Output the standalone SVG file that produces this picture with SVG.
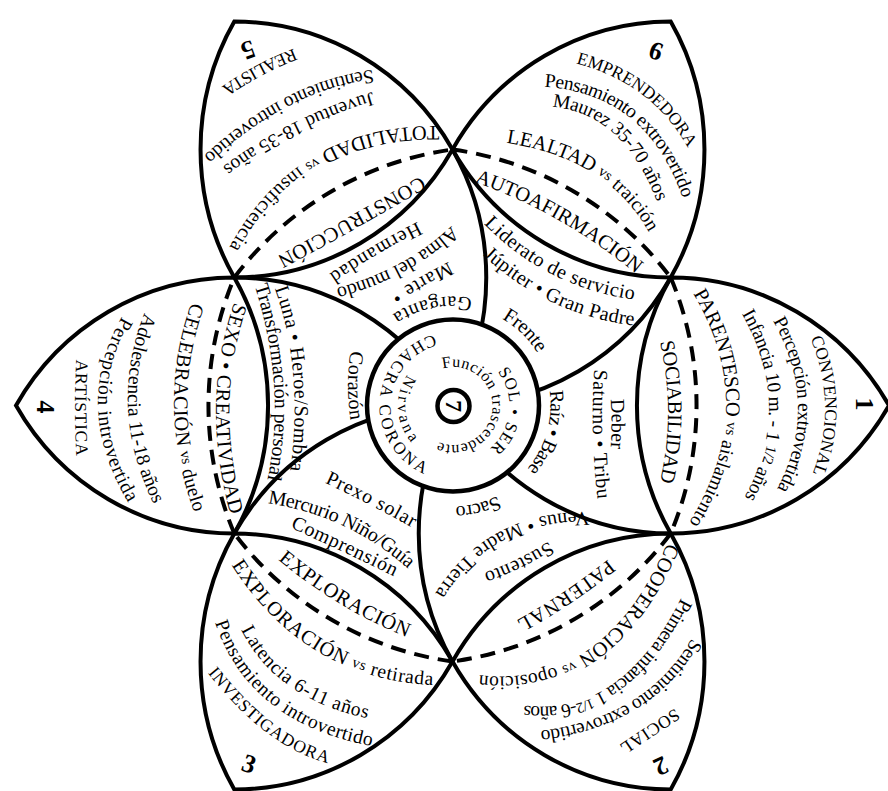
<svg xmlns="http://www.w3.org/2000/svg" width="888" height="791" viewBox="0 0 888 791">
<style>
.ln{fill:none;stroke:#000;stroke-width:4;stroke-linejoin:miter}
.dash{fill:none;stroke:#000;stroke-width:4;stroke-dasharray:15 9}
text{font-family:'Liberation Serif',serif;fill:#000;text-anchor:middle;dominant-baseline:central}
.b{font-size:20.5px}
.s{font-size:17.5px}
.l{font-size:19.5px}
.i{font-size:20px}
.v{font-size:15px}
.c{font-size:16px}
.n{font-size:26px;font-weight:bold}
</style>
<defs>
<path id="p1a" d="M810.5,321.5 L818,341 Q843,406 820,471 L813.1,490.5"/>
<path id="p1b" d="M767.2,295.8 L781,321 Q827,405 785,489 L772.4,514.2"/>
<path id="p1c" d="M734.7,285.8 L750,314 Q801,408 752,498 L737.3,525"/>
<path id="p1d" d="M681.2,258.5 L701,293 Q767,408 697,523 L676,557.5"/>
<path id="p1e" d="M663.8,326.2 L668,346 Q682,412 668,478 L663.8,497.8"/>
<path id="p4a" d="M82.6,352.5 L82,365 Q80,406.5 82,450 L82.6,463"/>
<path id="p4b" d="M141,297 L127,322 Q80.5,405.5 132,495 L147.5,521.9"/>
<path id="p4c" d="M160.2,291.5 L150,318 Q116,406.5 158,497 L170.6,524.2"/>
<path id="p4d" d="M206.9,279.3 L197,308 Q164,403.5 199,505 L209.5,535.5"/>
<path id="p4e" d="M249.6,278.4 L240,307 Q208,402.5 236,508 L244.4,539.7"/>
<path id="p5a" d="M300.9,52 L291,56 Q258,69.5 229,89 L220.3,94.9"/>
<path id="p5b" d="M397.4,73.4 L372,77 Q287.5,89 213,157 L190.7,177.4"/>
<path id="p5c" d="M392.8,93.1 L370,100 Q294,123 230,170 L210.8,184.1"/>
<path id="p5d" d="M475.5,132.9 L435,133 Q300,133.5 237,248 L218.1,282.4"/>
<path id="p5e" d="M438.9,173.3 L417,186 Q344,228.5 283,261 L264.7,270.8"/>
<path id="p6a" d="M561.4,52.7 L583,59 Q655,80 691,141 L701.8,159.3"/>
<path id="p6b" d="M516,77.6 L547,80 Q650.5,88 688,192 L699.3,223.2"/>
<path id="p6c" d="M532.3,97.8 L554,100 Q626.5,107.5 661,193 L671.4,218.7"/>
<path id="p6d" d="M484.6,131.9 L514,137 Q612,154 654,227 L666.6,248.9"/>
<path id="p6e" d="M456.7,168.5 L481,177 Q562,205.5 635,264 L656.9,281.6"/>
<path id="p2a" d="M680.8,711.7 L674,716 Q651.5,730.5 627,747 L619.7,752"/>
<path id="p2b" d="M710.5,619.3 L697,643 Q652,722 547,737 L515.5,741.5"/>
<path id="p2c" d="M702.8,572.6 L684,608 Q621.5,726 521,712 L490.9,707.8"/>
<path id="p2d" d="M690.5,508.5 L671,552 Q606,697 477,682 L438.3,677.5"/>
<path id="p2e" d="M623.9,555.8 L611,566 Q568,600 521,626 L506.9,633.8"/>
<path id="p3a" d="M202.1,656.4 L218,676 Q271,741.5 328,757 L345.1,761.7"/>
<path id="p3b" d="M212.6,593 L222,621 Q253.5,714.5 367,738 L401.1,745.1"/>
<path id="p3c" d="M238.3,609.1 L248,628 Q280.5,691 363,710 L387.8,715.7"/>
<path id="p3d" d="M219.3,533.4 L240,565 Q309,670.5 430,678 L466.3,680.3"/>
<path id="p3e" d="M270.5,544.7 L287,558 Q342,602.5 405,629 L423.9,637"/>
<path id="r0a" d="M551.2,369.6 A105,105 0 0 1 517.2,488.2"/>
<path id="r0b" d="M602.1,356 L601,374 Q597.5,434 604,494 L606,512"/>
<path id="r0c" d="M617.7,398 L618,404 Q619,424 618,444 L617.7,450"/>
<path id="r60a" d="M521.9,488.2 A108,108 0 0 1 430,511.1"/>
<path id="r60b" d="M611,517.8 L582,519 Q489,521 442,596 L430,616"/>
<path id="r60c" d="M556.7,544.6 L548,550 Q519,568 490,578 L481.3,581"/>
<path id="r120a" d="M319.6,472.8 L331,478 Q369,495.5 411,519 L423.6,526.1"/>
<path id="r120b" d="M248.8,493.4 L272,497 Q349.5,509 410,561 L428,577"/>
<path id="r120c" d="M282.6,516.6 L297,523 Q345,544.5 393,568 L407.4,575.1"/>
<path id="r180a" d="M358.2,347.2 L357,356 Q353,385.5 357,415 L358.2,423.9"/>
<path id="r180b" d="M273.6,264.2 L282,288 Q310,367.5 298,465 L294.4,494.3"/>
<path id="r180c" d="M254,259.8 L263,289 Q293,386.5 275,478 L269.6,505.5"/>
<path id="r240a" d="M429,223.9 L417,230 Q377,250.5 337,277 L325,285"/>
<path id="r240b" d="M465.4,223 L452,235 Q407.5,275 345,293 L326.3,298.4"/>
<path id="r240c" d="M455.1,266.4 L448,270 Q424.5,282 399,298 L391.4,302.8"/>
<path id="r240d" d="M487.4,309.7 A102,102 0 0 0 382.9,330.9"/>
<path id="r300a" d="M474.9,204.9 L492,222 Q549,279 630,292 L654.3,295.9"/>
<path id="r300b" d="M473.2,237 L491,253 Q550.5,306.5 630,318 L653.9,321.5"/>
<path id="r300c" d="M496,307.8 A107,107 0 0 1 548.7,358.6"/>
<path id="c1" d="M433.4,365.7 A45,45 0 1 1 428.7,443.5"/>
<path id="c2" d="M497.3,362.2 A62,62 0 0 1 488.2,457.4"/>
<path id="c3" d="M444,338.7 A68,68 0 0 0 434.8,471.4"/>
<path id="c4" d="M413.8,376.3 A49.6,49.6 0 0 0 417.3,440"/>
</defs>
<rect width="888" height="791" fill="#fff"/>

<g id="connectors">
<path class="ln" d="M234.3,277.5 A252,256 0 0 1 452.5,405.5"/>
<path class="ln" d="M452.5,149.5 A252,256 0 0 1 452.5,405.5"/>
<path class="ln" d="M670.7,277.5 A252,256 0 0 1 452.5,405.5"/>
<path class="ln" d="M670.7,533.5 A252,256 0 0 1 452.5,405.5"/>
<path class="ln" d="M452.5,661.5 A252,256 0 0 1 452.5,405.5"/>
<path class="ln" d="M234.3,533.5 A252,256 0 0 1 452.5,405.5"/>
</g>

<g id="petal-1">
<path class="ln" d="M670.7,277.5 A252,256 0 0 1 889,405.5 A252,256 0 0 1 670.7,533.5 A252,256 0 0 1 670.7,277.5 Z"/>
<path class="dash" d="M670.7,277.5 A330,330 0 0 1 670.7,533.5"/>
<g transform="translate(864 404) rotate(90)"><text class="n" x="0" y="0">1</text></g>
<text class="s"><textPath href="#p1a" startOffset="50%" textLength="143" lengthAdjust="spacing">CONVENCIONAL</textPath></text>
<text class="l"><textPath href="#p1b" startOffset="50%" textLength="183" lengthAdjust="spacing">Percepción extrovertida</textPath></text>
<text class="l"><textPath href="#p1c" startOffset="50%" textLength="200" lengthAdjust="spacing">Infancia 10 m. - 1 <tspan class="v">1/2</tspan> años</textPath></text>
<text class="l"><textPath href="#p1d" startOffset="50%" textLength="250" lengthAdjust="spacing"><tspan class="b">PARENTESCO</tspan> <tspan class="v">vs</tspan> aislamiento</textPath></text>
<text class="b"><textPath href="#p1e" startOffset="50%" textLength="144" lengthAdjust="spacing">SOCIABILIDAD</textPath></text>
</g>

<g id="petal-2">
<path class="ln" d="M670.7,533.5 A252,256 0 0 1 670.7,789.5 A252,256 0 0 1 452.5,661.5 A252,256 0 0 1 670.7,533.5 Z"/>
<path class="dash" d="M670.7,533.5 A330,330 0 0 1 452.5,661.5"/>
<g transform="translate(661 766) rotate(155)"><text class="n" x="0" y="0">2</text></g>
<text class="s"><textPath href="#p2a" startOffset="50%" textLength="67" lengthAdjust="spacing">SOCIAL</textPath></text>
<text class="l"><textPath href="#p2b" startOffset="50%" textLength="191" lengthAdjust="spacing">Sentimiento extrovertido</textPath></text>
<text class="l"><textPath href="#p2c" startOffset="50%" textLength="213" lengthAdjust="spacing">Primera infancia 1 <tspan class="v">1/2</tspan>-6 años</textPath></text>
<text class="l"><textPath href="#p2d" startOffset="50%" textLength="258" lengthAdjust="spacing"><tspan class="b">COOPERACIÓN</tspan> <tspan class="v">vs</tspan> oposición</textPath></text>
<text class="b"><textPath href="#p2e" startOffset="50%" textLength="112" lengthAdjust="spacing">PATERNAL</textPath></text>
</g>

<g id="petal-3">
<path class="ln" d="M452.5,661.5 A252,256 0 0 1 234.3,789.5 A252,256 0 0 1 234.3,533.5 A252,256 0 0 1 452.5,661.5 Z"/>
<path class="dash" d="M452.5,661.5 A330,330 0 0 1 234.3,533.5"/>
<g transform="translate(249 764) rotate(20)"><text class="n" x="0" y="0">3</text></g>
<text class="s"><textPath href="#p3a" startOffset="50%" textLength="149" lengthAdjust="spacing">INVESTIGADORA</textPath></text>
<text class="l"><textPath href="#p3b" startOffset="50%" textLength="203" lengthAdjust="spacing">Pensamiento introvertido</textPath></text>
<text class="l"><textPath href="#p3c" startOffset="50%" textLength="154" lengthAdjust="spacing">Latencia 6-11 años</textPath></text>
<text class="l"><textPath href="#p3d" startOffset="50%" textLength="238" lengthAdjust="spacing"><tspan class="b">EXPLORACIÓN</tspan> <tspan class="v">vs</tspan> retirada</textPath></text>
<text class="b"><textPath href="#p3e" startOffset="50%" textLength="149" lengthAdjust="spacing">EXPLORACIÓN</textPath></text>
</g>

<g id="petal-4">
<path class="ln" d="M234.3,533.5 A252,256 0 0 1 16,405.5 A252,256 0 0 1 234.3,277.5 A252,256 0 0 1 234.3,533.5 Z"/>
<path class="dash" d="M234.3,533.5 A330,330 0 0 1 234.3,277.5"/>
<g transform="translate(45 407) rotate(90)"><text class="n" x="0" y="0">4</text></g>
<text class="s"><textPath href="#p4a" startOffset="50%" textLength="96" lengthAdjust="spacing">ARTÍSTICA</textPath></text>
<text class="l"><textPath href="#p4b" startOffset="50%" textLength="189" lengthAdjust="spacing">Percepción introvertida</textPath></text>
<text class="l"><textPath href="#p4c" startOffset="50%" textLength="192" lengthAdjust="spacing">Adolescencia 11-18 años</textPath></text>
<text class="l"><textPath href="#p4d" startOffset="50%" textLength="210" lengthAdjust="spacing"><tspan class="b">CELEBRACIÓN</tspan> <tspan class="v">vs</tspan> duelo</textPath></text>
<text class="b"><textPath href="#p4e" startOffset="50%" textLength="212" lengthAdjust="spacing">SEXO • CREATIVIDAD</textPath></text>
</g>

<g id="petal-5">
<path class="ln" d="M234.3,277.5 A252,256 0 0 1 234.3,21.5 A252,256 0 0 1 452.5,149.5 A252,256 0 0 1 234.3,277.5 Z"/>
<path class="dash" d="M234.3,277.5 A330,330 0 0 1 452.5,149.5"/>
<g transform="translate(248 50) rotate(160)"><text class="n" x="0" y="0">5</text></g>
<text class="s"><textPath href="#p5a" startOffset="50%" textLength="81" lengthAdjust="spacing">REALISTA</textPath></text>
<text class="l"><textPath href="#p5b" startOffset="50%" textLength="189" lengthAdjust="spacing">Sentimiento introvertido</textPath></text>
<text class="l"><textPath href="#p5c" startOffset="50%" textLength="166" lengthAdjust="spacing">Juventud 18-35 años</textPath></text>
<text class="l"><textPath href="#p5d" startOffset="50%" textLength="249" lengthAdjust="spacing"><tspan class="b">TOTALIDAD</tspan> <tspan class="v">vs</tspan> insuficiencia</textPath></text>
<text class="b"><textPath href="#p5e" startOffset="50%" textLength="165" lengthAdjust="spacing">CONSTRUCCIÓN</textPath></text>
</g>

<g id="petal-6">
<path class="ln" d="M452.5,149.5 A252,256 0 0 1 670.7,21.5 A252,256 0 0 1 670.7,277.5 A252,256 0 0 1 452.5,149.5 Z"/>
<path class="dash" d="M452.5,149.5 A330,330 0 0 1 670.7,277.5"/>
<g transform="translate(656 51) rotate(20)"><text class="n" x="0" y="0">6</text></g>
<text class="s"><textPath href="#p6a" startOffset="50%" textLength="149" lengthAdjust="spacing">EMPRENDEDORA</textPath></text>
<text class="l"><textPath href="#p6b" startOffset="50%" textLength="198" lengthAdjust="spacing">Pensamiento extrovertido</textPath></text>
<text class="l"><textPath href="#p6c" startOffset="50%" textLength="157" lengthAdjust="spacing">Maurez 35-70 años</textPath></text>
<text class="l"><textPath href="#p6d" startOffset="50%" textLength="181" lengthAdjust="spacing"><tspan class="b">LEALTAD</tspan> <tspan class="v">vs</tspan> traición</textPath></text>
<text class="b"><textPath href="#p6e" startOffset="50%" textLength="189" lengthAdjust="spacing">AUTOAFIRMACIÓN</textPath></text>
</g>

<g id="chakra-raiz">
<text class="i"><textPath href="#r0a" startOffset="50%" textLength="89" lengthAdjust="spacing">Raíz • Base</textPath></text>
<text class="i"><textPath href="#r0b" startOffset="50%" textLength="129" lengthAdjust="spacing">Saturno • Tribu</textPath></text>
<text class="i"><textPath href="#r0c" startOffset="50%" textLength="50" lengthAdjust="spacing">Deber</textPath></text>
</g>
<g id="chakra-sacro">
<text class="i"><textPath href="#r60a" startOffset="50%" textLength="46" lengthAdjust="spacing">Sacro</textPath></text>
<text class="i"><textPath href="#r60b" startOffset="50%" textLength="176" lengthAdjust="spacing">Venus • Madre Tierra</textPath></text>
<text class="i"><textPath href="#r60c" startOffset="50%" textLength="74" lengthAdjust="spacing">Sustento</textPath></text>
</g>
<g id="chakra-plexo">
<text class="i"><textPath href="#r120a" startOffset="50%" textLength="99" lengthAdjust="spacing">Prexo solar</textPath></text>
<text class="i"><textPath href="#r120b" startOffset="50%" textLength="161" lengthAdjust="spacing">Mercurio Niño/Guía</textPath></text>
<text class="i"><textPath href="#r120c" startOffset="50%" textLength="115" lengthAdjust="spacing">Comprensión</textPath></text>
</g>
<g id="chakra-corazon">
<text class="i"><textPath href="#r180a" startOffset="50%" textLength="68" lengthAdjust="spacing">Corazón</textPath></text>
<text class="i"><textPath href="#r180b" startOffset="50%" textLength="188" lengthAdjust="spacing">Luna • Heroe/Sombra</textPath></text>
<text class="i"><textPath href="#r180c" startOffset="50%" textLength="200" lengthAdjust="spacing">Transformación personal</textPath></text>
</g>
<g id="chakra-garganta">
<text class="i"><textPath href="#r240a" startOffset="50%" textLength="102" lengthAdjust="spacing">Hermandad</textPath></text>
<text class="i"><textPath href="#r240b" startOffset="50%" textLength="136" lengthAdjust="spacing">Alma del mundo</textPath></text>
<text class="i"><textPath href="#r240c" startOffset="50%" textLength="66" lengthAdjust="spacing">Marte •</textPath></text>
<text class="i"><textPath href="#r240d" startOffset="50%" textLength="79" lengthAdjust="spacing">Garganta</textPath></text>
</g>
<g id="chakra-frente">
<text class="i"><textPath href="#r300a" startOffset="50%" textLength="167" lengthAdjust="spacing">Liderato de servicio</textPath></text>
<text class="i"><textPath href="#r300b" startOffset="50%" textLength="165" lengthAdjust="spacing">Júpiter • Gran Padre</textPath></text>
<text class="i"><textPath href="#r300c" startOffset="50%" textLength="53" lengthAdjust="spacing">Frente</textPath></text>
</g>

<g id="center">
<circle cx="453" cy="405.5" r="86" fill="#fff" stroke="#000" stroke-width="4.5"/>
<circle cx="453.5" cy="406" r="16" fill="none" stroke="#000" stroke-width="4.5"/>
<g transform="translate(453.5 406) rotate(90)"><text class="n" x="0" y="0" style="font-size:24px">7</text></g>
<text class="c"><textPath href="#c1" startOffset="50%" textLength="170" lengthAdjust="spacing">Función trascendente</textPath></text>
<text style="font-size:17px"><textPath href="#c2" startOffset="50%" textLength="93" lengthAdjust="spacing">SOL • SER</textPath></text>
<text style="font-size:17px"><textPath href="#c3" startOffset="50%" textLength="168" lengthAdjust="spacing">CHACRA CORONA</textPath></text>
<text class="c"><textPath href="#c4" startOffset="50%" textLength="66" lengthAdjust="spacing">Nirvana</textPath></text>
</g>
</svg>
